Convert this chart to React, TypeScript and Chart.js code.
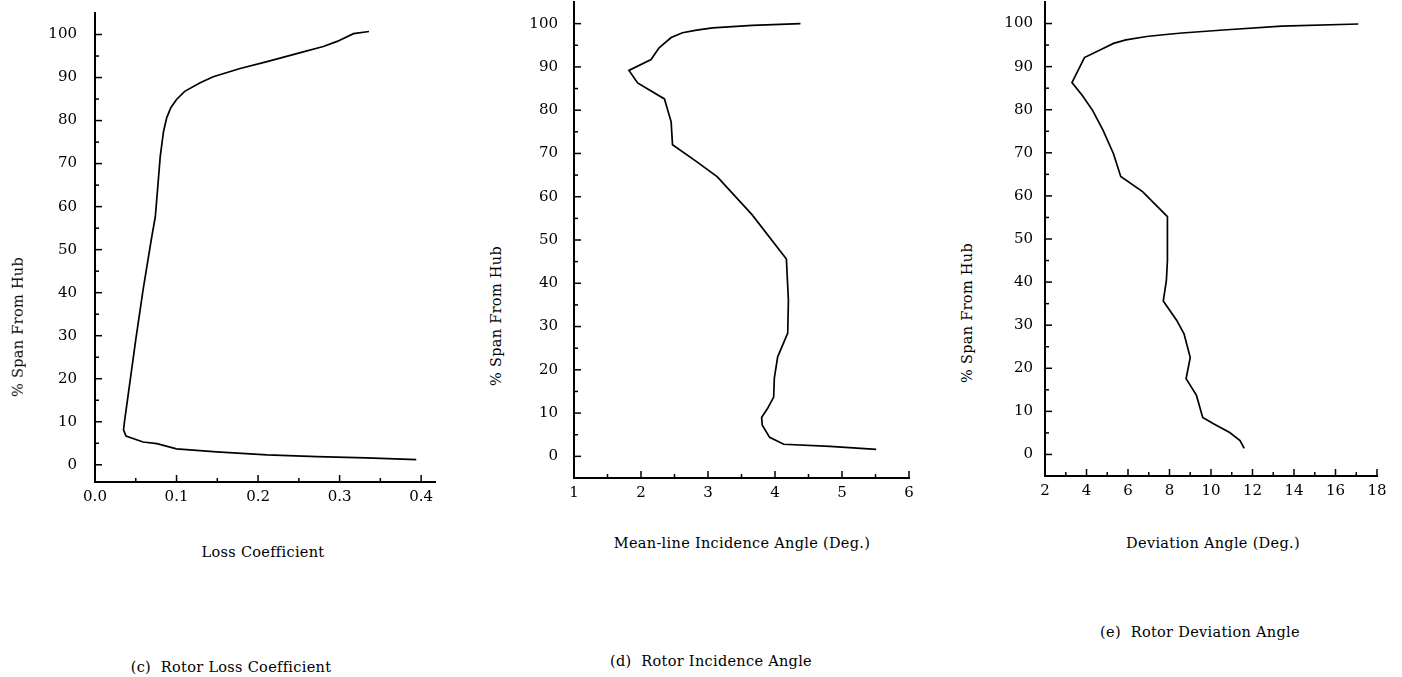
import React, { useEffect, useRef } from "react";
import { Chart, registerables } from "chart.js";

Chart.register(...registerables);

// ---- Data ----
// (c) Rotor Loss Coefficient
const cLoss = [0.394, 0.333, 0.272, 0.211, 0.149, 0.1, 0.076, 0.059, 0.038, 0.035, 0.036, 0.05, 0.059, 0.069, 0.074, 0.08, 0.084, 0.088, 0.093, 0.1, 0.11, 0.129, 0.145, 0.178, 0.211, 0.252, 0.28, 0.297, 0.317, 0.336];
const cSpan = [1.2, 1.6, 1.9, 2.3, 3.0, 3.7, 4.9, 5.3, 6.7, 8.1, 9.8, 29.1, 40.7, 52.3, 57.7, 71.6, 77.4, 80.7, 83.0, 84.9, 86.8, 88.8, 90.2, 92.1, 93.7, 95.8, 97.2, 98.4, 100.2, 100.7];

// (d) Rotor Incidence Angle
const dInc = [5.51, 4.82, 4.13, 3.92, 3.81, 3.8, 3.89, 3.98, 3.99, 4.04, 4.19, 4.2, 4.17, 3.66, 3.14, 2.83, 2.47, 2.45, 2.35, 2.12, 1.95, 1.82, 2.15, 2.27, 2.45, 2.62, 2.83, 3.07, 3.66, 4.38];
const dSpan = [1.6, 2.3, 2.8, 4.4, 7.2, 9.0, 11.1, 13.7, 18.1, 23.0, 28.5, 36.1, 45.6, 55.8, 64.6, 68.1, 72.0, 77.3, 82.6, 84.7, 86.3, 89.2, 91.7, 94.4, 96.8, 97.9, 98.5, 99.0, 99.6, 100.0];

// (e) Rotor Deviation Angle
const eDev = [11.6, 11.4, 10.9, 10.1, 9.6, 9.3, 8.8, 9.0, 8.7, 8.35, 7.7, 7.85, 7.9, 7.9, 6.7, 5.65, 5.3, 4.8, 4.3, 3.8, 3.3, 3.9, 4.8, 5.3, 5.9, 6.9, 7.7, 8.6, 10.6, 13.4, 17.1];
const eSpan = [1.4, 3.2, 5.1, 7.2, 8.6, 13.7, 17.6, 22.5, 28.0, 31.1, 35.6, 40.4, 45.0, 55.2, 61.0, 64.5, 69.8, 75.2, 79.8, 83.3, 86.3, 92.1, 94.2, 95.4, 96.2, 97.0, 97.4, 97.8, 98.5, 99.4, 99.9];

// ---- Tick values ----
const spanMajor = [0, 10, 20, 30, 40, 50, 60, 70, 80, 90, 100];
const spanMinor = [5, 15, 25, 35, 45, 55, 65, 75, 85, 95];
const cXMajor = [0, 0.1, 0.2, 0.3, 0.4];
const cXMinor = [0.05, 0.15, 0.25, 0.35];
const dXMajor = [1, 2, 3, 4, 5, 6];
const dXMinor = [1.5, 2.5, 3.5, 4.5, 5.5];
const eXMajor = [2, 4, 6, 8, 10, 12, 14, 16, 18];
const eXMinor = [3, 5, 7, 9, 11, 13, 15, 17];

// ---- Text ----
const yTitle = "% Span From Hub";
const cXTitle = "Loss Coefficient";
const dXTitle = "Mean-line Incidence Angle (Deg.)";
const eXTitle = "Deviation Angle (Deg.)";
const cCaption = "(c)  Rotor Loss Coefficient";
const dCaption = "(d)  Rotor Incidence Angle";
const eCaption = "(e)  Rotor Deviation Angle";

const FONT = '"DejaVu Serif", serif';
const YW = 70;
const PT = 20;
const PR = 25;
const XH = 50;

const innerTicks = {
  id: "innerTicks",
  afterDraw(chart: any, _args: any, opts: any) {
    const { ctx, chartArea, scales } = chart;
    const xs = scales.x;
    const ys = scales.y;
    ctx.save();
    ctx.strokeStyle = "#000";
    ctx.lineWidth = 1.5;
    const drawX = (vals: number[], len: number) => {
      vals.forEach((v) => {
        const px = xs.getPixelForValue(v);
        ctx.beginPath();
        ctx.moveTo(px, chartArea.bottom);
        ctx.lineTo(px, chartArea.bottom - len);
        ctx.stroke();
      });
    };
    const drawY = (vals: number[], len: number) => {
      vals.forEach((v) => {
        const py = ys.getPixelForValue(v);
        ctx.beginPath();
        ctx.moveTo(chartArea.left, py);
        ctx.lineTo(chartArea.left + len, py);
        ctx.stroke();
      });
    };
    drawX(opts.xMajor || [], 7);
    drawX(opts.xMinor || [], 4);
    drawY(opts.yMajor || [], 7);
    drawY(opts.yMinor || [], 4);
    ctx.restore();
  },
};

type PanelProps = {
  left: number;
  top: number;
  width: number;
  height: number;
  xVals: number[];
  yVals: number[];
  xMin: number;
  xMax: number;
  yMin: number;
  yMax: number;
  xMajor: number[];
  xMinor: number[];
  yPad: number;
  xFmt: (v: number) => string;
};

function Panel(p: PanelProps) {
  const ref = useRef<HTMLCanvasElement | null>(null);
  useEffect(() => {
    if (!ref.current) return;
    const pts = p.xVals.map((x, i) => ({ x, y: p.yVals[i] }));
    const chart = new Chart(ref.current, {
      type: "line",
      data: {
        datasets: [
          {
            data: pts,
            borderColor: "#000",
            borderWidth: 1.7,
            pointRadius: 0,
            tension: 0,
            fill: false,
          },
        ],
      },
      plugins: [innerTicks],
      options: {
        animation: false,
        responsive: false,
        maintainAspectRatio: false,
        devicePixelRatio: 1,
        layout: { padding: { top: PT, right: PR, bottom: 0, left: 0 } },
        plugins: {
          legend: { display: false },
          tooltip: { enabled: false },
          title: { display: false },
          innerTicks: {
            xMajor: p.xMajor,
            xMinor: p.xMinor,
            yMajor: spanMajor,
            yMinor: spanMinor,
          },
        } as any,
        scales: {
          x: {
            type: "linear",
            min: p.xMin,
            max: p.xMax,
            grid: { display: false, drawTicks: false },
            border: { display: true, color: "#000", width: 2 },
            afterBuildTicks: (s: any) => {
              s.ticks = p.xMajor.map((v) => ({ value: v }));
            },
            afterFit: (s: any) => {
              s.height = XH;
              s.paddingLeft = 0;
              s.paddingRight = 0;
            },
            ticks: {
              color: "#000",
              padding: 6,
              maxRotation: 0,
              autoSkip: false,
              font: { family: FONT, size: 15 },
              callback: (v: any) => p.xFmt(Number(v)),
            },
          },
          y: {
            type: "linear",
            min: p.yMin,
            max: p.yMax,
            grid: { display: false, drawTicks: false },
            border: { display: true, color: "#000", width: 2 },
            afterBuildTicks: (s: any) => {
              s.ticks = spanMajor.map((v) => ({ value: v }));
            },
            afterFit: (s: any) => {
              s.width = YW;
              s.paddingTop = 0;
              s.paddingBottom = 0;
            },
            ticks: {
              color: "#000",
              padding: p.yPad,
              autoSkip: false,
              font: { family: FONT, size: 15 },
              callback: (v: any) => String(v),
            },
          },
        },
      } as any,
    });
    return () => chart.destroy();
  }, []);
  return (
    <canvas
      ref={ref}
      width={p.width}
      height={p.height}
      style={{ position: "absolute", left: p.left, top: p.top, width: p.width, height: p.height }}
    />
  );
}

function Label({ text, cx, cy, rotate }: { text: string; cx: number; cy: number; rotate?: boolean }) {
  return (
    <div
      style={{
        position: "absolute",
        left: cx,
        top: cy,
        transform: `translate(-50%, -50%)${rotate ? " rotate(-90deg)" : ""}`,
        fontFamily: FONT,
        fontSize: 14.5,
        letterSpacing: "0.3px",
        whiteSpace: "pre",
        color: "#000",
        lineHeight: 1,
      }}
    >
      {text}
    </div>
  );
}

// Chart-area targets (page px): c: x 95..435, y 13..482 ; d: x 574..909, y 2..478 ; e: x 1045..1377, y 2..476
export default function App() {
  return (
    <div
      style={{
        position: "fixed",
        left: 0,
        top: 0,
        width: 1402,
        height: 677,
        background: "#fff",
        overflow: "hidden",
      }}
    >
      <Panel
        left={95 - YW}
        top={13 - PT}
        width={YW + 340 + PR}
        height={PT + 469 + XH}
        xVals={cLoss}
        yVals={cSpan}
        xMin={0}
        xMax={0.417}
        yMin={-4}
        yMax={105}
        xMajor={cXMajor}
        xMinor={cXMinor}
        yPad={18}
        xFmt={(v) => v.toFixed(1)}
      />
      <Panel
        left={574 - YW}
        top={2 - PT}
        width={YW + 335 + PR}
        height={PT + 476 + XH}
        xVals={dInc}
        yVals={dSpan}
        xMin={1}
        xMax={6}
        yMin={-5}
        yMax={105}
        xMajor={dXMajor}
        xMinor={dXMinor}
        yPad={16}
        xFmt={(v) => String(v)}
      />
      <Panel
        left={1045 - YW}
        top={2 - PT}
        width={YW + 332 + PR}
        height={PT + 474 + XH}
        xVals={eDev}
        yVals={eSpan}
        xMin={2}
        xMax={18}
        yMin={-5}
        yMax={105}
        xMajor={eXMajor}
        xMinor={eXMinor}
        yPad={12}
        xFmt={(v) => String(v)}
      />
      <Label text={yTitle} cx={18} cy={327} rotate />
      <Label text={yTitle} cx={496} cy={316} rotate />
      <Label text={yTitle} cx={967} cy={313} rotate />
      <Label text={cXTitle} cx={263} cy={552} />
      <Label text={dXTitle} cx={742} cy={543} />
      <Label text={eXTitle} cx={1213} cy={543} />
      <Label text={cCaption} cx={231} cy={667} />
      <Label text={dCaption} cx={711} cy={661} />
      <Label text={eCaption} cx={1200} cy={632} />
    </div>
  );
}
